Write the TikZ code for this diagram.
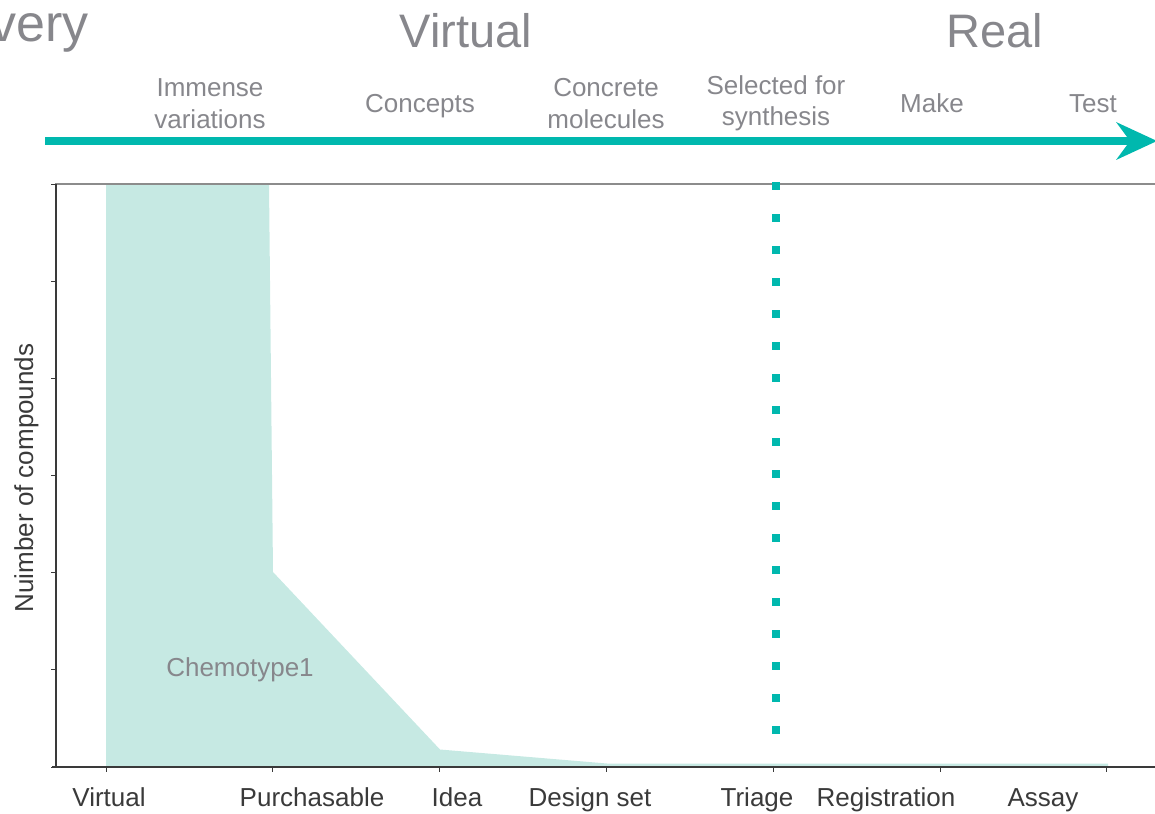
\documentclass[tikz,border=0pt]{standalone}
\usepackage{fontspec}
\setmainfont{Liberation Sans}
\definecolor{teal1}{HTML}{00B8AE}
\definecolor{fillc}{HTML}{C6E9E3}
\definecolor{greytxt}{HTML}{87878C}
\definecolor{axisc}{HTML}{3A3A3A}
\definecolor{topline}{HTML}{8C8C8C}
\begin{document}
\begin{tikzpicture}[x=1pt,y=-1pt,
  stage/.style={font=\fontsize{26}{31}\selectfont, text=greytxt, align=center, anchor=base, inner sep=0pt},
  bigword/.style={font=\fontsize{47}{56}\selectfont, text=greytxt, anchor=base, inner sep=0pt},
  xlab/.style={font=\fontsize{26}{31}\selectfont, text=axisc, anchor=base, inner sep=0pt},
  axisline/.style={draw=axisc, line width=1.3pt},
  tickline/.style={draw=axisc, line width=1pt}]
\useasboundingbox (0,0) rectangle (1155,813);
% big headings
\node[bigword, anchor=base east, font=\fontsize{52}{60}\selectfont] (very) at (89,42) {very};
\node[bigword] (virt) at (466,48) {Virtual};
\node[bigword] (real) at (995,48) {Real};
% stage labels
\node[stage] (imm1) at (210,97) {Immense};
\node[stage] (imm2) at (210,129) {variations};
\node[stage] (conc) at (420,113) {Concepts};
\node[stage] (cm1) at (606,97) {Concrete};
\node[stage] (cm2) at (606,129) {molecules};
\node[stage] (sel1) at (776,95) {Selected for};
\node[stage] (sel2) at (776,126) {synthesis};
\node[stage] (make) at (932,113) {Make};
\node[stage] (test) at (1093,113) {Test};
% arrow
\coordinate (arS) at (45,141);
\coordinate (arE) at (1132,141);
\draw[teal1, line width=8pt] (arS) -- (arE);
\fill[teal1] (1116,122) -- (1157,141) -- (1116,160) -- (1130,141) -- cycle;
% filled area
\fill[fillc] (106,767) -- (106,184) -- (269,184) -- (273,572) -- (440,749.5) -- (607,763.5) -- (1108,763.5) -- (1108,767) -- cycle;
\node[stage, anchor=base] (chemo) at (240,676) {Chemotype1};
% axes
\draw[topline, line width=2pt] (55,184) -- (1155,184);
\draw[axisline] (56,184) -- (56,767.5);
\draw[axisline] (52,767) -- (1155,767);
\foreach \k in {0,...,6} {
  \draw[tickline] (51,{184+\k*97.17}) -- (56,{184+\k*97.17});
  \draw[tickline] ({106+\k*166.83},767) -- ({106+\k*166.83},772);
}
% dotted triage line
\foreach \k in {0,...,17} {
  \fill[teal1] (772,{182+\k*32}) rectangle (780,{190+\k*32});
}
% axis labels
\node[xlab] (lv) at (109,806) {Virtual};
\node[xlab] (lp) at (312,806) {Purchasable};
\node[xlab] (li) at (457,806) {Idea};
\node[xlab] (ld) at (590,806) {Design set};
\node[xlab] (lt) at (757,806) {Triage};
\node[xlab] (lr) at (886,806) {Registration};
\node[xlab] (la) at (1043,806) {Assay};
\node[xlab, rotate=90] (ylab) at (33,478) {Nuimber of compounds};
\end{tikzpicture}
\end{document}
